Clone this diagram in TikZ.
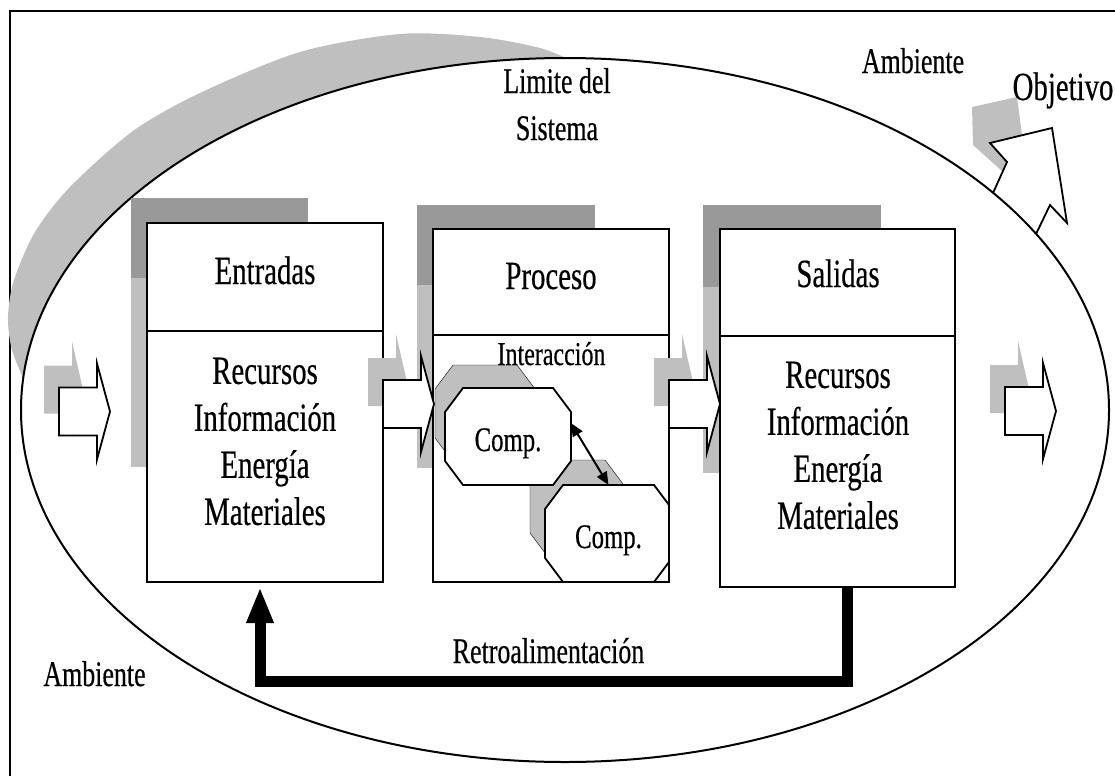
\documentclass[tikz,border=0pt]{standalone}
\usepackage{fontspec}
\setmainfont{Liberation Serif}[FakeStretch=0.72, FakeBold=0.4]
\usepackage{tikz}
\usetikzlibrary{calc}
\usetikzlibrary{positioning}
\usetikzlibrary{arrows.meta}
\definecolor{shadedark}{gray}{0.6}
\definecolor{shadelight}{gray}{0.75}
\newcommand{\blockarrow}[1]{\fill[shadelight, shift={(#1)}, xshift=-15pt, yshift=22pt] (0,-24) -- (28,-24) -- (28,-48) -- (39,0) -- (28,48) -- (28,24) -- (0,24) -- cycle; \filldraw[arrline, shift={(#1)}] (0,-24) -- (38,-24) -- (38,-48) -- (51,0) -- (38,48) -- (38,24) -- (0,24) -- cycle;}
\newcommand{\boxshade}[5]{\fill[shadedark] ( #1 , #2 ) rectangle ( #3 , #4 ); \fill[shadelight] ( #1 , #4 ) rectangle ( #1+16 , #5 );}
\newcommand{\octagon}[5]{\filldraw[#1] ( #2+18 , #3 ) -- ( #4-18 , #3 ) -- ( #4 , #3+24 ) -- ( #4 , #5-24 ) -- ( #4-18 , #5 ) -- ( #2+18 , #5 ) -- ( #2 , #5-24 ) -- ( #2 , #3+24 ) -- cycle;}

\begin{document}
\begin{tikzpicture}[x=1pt, y=-1pt,
    boxline/.style={draw, line width=2.5pt},
    sysbox/.style={boxline, fill=white, minimum width=236pt, inner sep=0pt, outer sep=0pt},
    arrline/.style={fill=white, line width=1.8pt},
    compline/.style={fill=white, line width=1.8pt},
    compshade/.style={fill=shadelight},
    compnode/.style={minimum width=126pt, minimum height=97pt, inner sep=0pt, outer sep=0pt,
      text height=29pt, text depth=0pt, font=\fontsize{34.4}{40}\selectfont},
    hdrtxt/.style={font=\fontsize{40}{47}\selectfont, inner sep=0pt, anchor=base},
    bodytxt/.style={font=\fontsize{40}{47}\selectfont, inner sep=0pt, align=center},
    labtxt/.style={font=\fontsize{36}{47}\selectfont, inner sep=0pt, align=center},
    interarrow/.style={line width=2pt, {Triangle[length=13pt,width=11pt]}-{Triangle[length=13pt,width=11pt]}},
    feedback/.style={line width=11pt, -{Triangle[length=36pt,width=25pt]}}]
    \useasboundingbox (0,0) rectangle (1115,776);
    % frame
    \draw[line width=2.5pt] (10,776) -- (10,11) -- (1115,11);
    % shadow of the limit
    \fill[shadelight] plot[smooth] coordinates {(26,385) (12,350) (8,317) (14,280) (35,232) (70,187) (133,131) (200,93) (300,52) (400,34) (480,37) (540,48) (575,62)} -- cycle;
    % objective arrow
    \fill[shadelight] (972,107) -- (1017,97) -- (1022,135) -- (1003,172) -- (973,145) -- cycle;
    \filldraw[arrline] (993,193) -- (1007,162) -- (990,143) -- (1052,128) -- (1067,223) -- (1050,205) -- (1036,234);
    % limit of the system
    \filldraw[fill=white, line width=2pt] (565,410) ellipse [x radius=544pt, y radius=352pt];
    % box shadows
    \boxshade{131}{198}{308}{278}{467}
    \boxshade{417}{205}{595}{285}{468}
    \boxshade{703}{205}{881}{287}{473}
    % entradas
    \node[sysbox, minimum height=108pt] (enth) at (265,277) {};
    \node[sysbox, minimum height=251pt, below=0pt of enth] (entb) {};
    % proceso
    \node[sysbox, minimum height=106pt] (proh) at (551,282) {};
    \node[sysbox, minimum height=247pt, below=0pt of proh] (prob) {};
    % salidas
    \node[sysbox, minimum height=107pt, minimum width=235pt] (salh) at (837.5,282.5) {};
    \node[sysbox, minimum height=251pt, minimum width=235pt, below=0pt of salh] (salb) {};
    % components
    \begin{scope}
        \clip (prob.north west) rectangle (prob.south east);
        \octagon{compshade}{435}{365}{535}{462}
        \octagon{compshade}{530}{460}{623}{557}
        \octagon{compline}{545}{485}{672}{582}
        \node[compnode] (comp2) at (608.5,533.5) {Comp.};
    \end{scope}
    \draw[boxline] (prob.north west) rectangle (prob.south east);
    \octagon{compline}{445}{388}{571}{485}
    \node[compnode] (comp1) at (508,436.5) {Comp.};
    \draw[interarrow] (comp1.12) -- (comp2.north);
    % flow arrows
    \coordinate (midrow) at (0,404);
    \blockarrow{59,411.5}
    \blockarrow{entb.east |- midrow}
    \blockarrow{prob.east |- midrow}
    \blockarrow{1005,411}
    % feedback
    \coordinate (fbrow) at (0,681);
    \coordinate (fbright) at (847,0);
    \coordinate (fbleft) at (260,0);
    \draw[feedback] (salb.south -| fbright) |- (fbrow -| fbleft) -- ($(entb.south -| fbleft)+(0,5)$);
    % texts
    \node[hdrtxt] (entt) at (265,284) {Entradas};
    \node[hdrtxt] (prot) at (551,289) {Proceso};
    \node[hdrtxt] (salt) at (838,287) {Salidas};
    \node[bodytxt] (entl) at (265,441.5) {Recursos\\Información\\Energía\\Materiales};
    \node[bodytxt] (sall) at (838,445.5) {Recursos\\Información\\Energía\\Materiales};
    \node[font=\fontsize{33.3}{38}\selectfont, inner sep=0pt, anchor=base] (inter) at (551.5,365) {Interacción};
    \node[labtxt] (limit) at (557,104.2) {Limite del\\Sistema};
    \node[labtxt, anchor=base] (ambtop) at (913,73) {Ambiente};
    \node[labtxt, anchor=base] (ambbot) at (94.5,686) {Ambiente};
    \node[font=\fontsize{40}{47}\selectfont, inner sep=0pt, anchor=base] (goal) at (1063,100) {Objetivo};
    \node[labtxt, anchor=base] (retro) at (548.5,663) {Retroalimentación};
\end{tikzpicture}
\end{document}
